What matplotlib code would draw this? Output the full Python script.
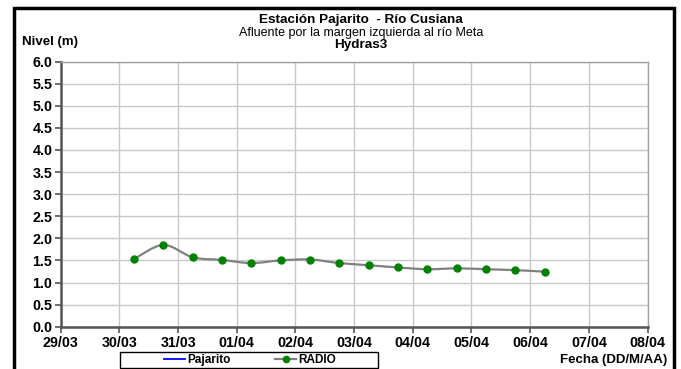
import matplotlib
matplotlib.use("Agg")
import matplotlib.pyplot as plt
import matplotlib.dates as mdates
from matplotlib.path import Path
from matplotlib.patches import PathPatch, Rectangle
from matplotlib.lines import Line2D
from datetime import datetime
import numpy as np

plt.rcParams['font.family'] = ['Liberation Sans', 'DejaVu Sans']

# ---- data ----
radio_times = ["2010-03-30 06:00", "2010-03-30 18:00", "2010-03-31 06:00", "2010-03-31 18:00",
               "2010-04-01 06:00", "2010-04-01 18:00", "2010-04-02 06:00", "2010-04-02 18:00",
               "2010-04-03 06:00", "2010-04-03 18:00", "2010-04-04 06:00", "2010-04-04 18:00",
               "2010-04-05 06:00", "2010-04-05 18:00", "2010-04-06 06:00"]
radio_values = [1.53, 1.85, 1.57, 1.51, 1.44, 1.50, 1.52, 1.44, 1.39, 1.34, 1.30, 1.32, 1.30, 1.28, 1.245]
pajarito_times = []
pajarito_values = []
x_tick_dates = ["2010-03-29", "2010-03-30", "2010-03-31", "2010-04-01", "2010-04-02", "2010-04-03",
                "2010-04-04", "2010-04-05", "2010-04-06", "2010-04-07", "2010-04-08"]
x_tick_labels = ["29/03", "30/03", "31/03", "01/04", "02/04", "03/04", "04/04", "05/04", "06/04", "07/04", "08/04"]
y_ticks = [0.0, 0.5, 1.0, 1.5, 2.0, 2.5, 3.0, 3.5, 4.0, 4.5, 5.0, 5.5, 6.0]

title1 = "Estación Pajarito  - Río Cusiana"
title2 = "Afluente por la margen izquierda al río Meta"
title3 = "Hydras3"
ylabel = "Nivel (m)"
xlabel = "Fecha (DD/M/AA)"

W, H = 681, 369
fig = plt.figure(figsize=(W / 100, H / 100), dpi=100)

def fx(px):
    return px / W

def fy(py):
    return 1 - py / H

ax = fig.add_axes([fx(60.7), fy(326.7), fx(647.5) - fx(60.7), fy(61.5) - fy(326.7)])

xt = mdates.date2num([datetime.strptime(d, "%Y-%m-%d") for d in x_tick_dates])
xr = mdates.date2num([datetime.strptime(d, "%Y-%m-%d %H:%M") for d in radio_times])
yr = np.array(radio_values)

ax.set_xlim(xt[0], xt[-1])
ax.set_ylim(0, 6)
ax.set_xticks(xt)
ax.set_xticklabels(x_tick_labels)
ax.set_yticks(y_ticks)
ax.set_yticklabels([f"{v:.1f}" for v in y_ticks])

ax.grid(True, color="#c8c8c8", linewidth=1.0)
ax.set_axisbelow(True)
for s in ("top", "right"):
    ax.spines[s].set_color("#a0a0a0")
    ax.spines[s].set_linewidth(1.0)
for s in ("left", "bottom"):
    ax.spines[s].set_color("#555555")
    ax.spines[s].set_linewidth(1.8)
ax.tick_params(axis="both", direction="out", length=4, width=1.2, color="#555555",
               labelsize=10.3, pad=2)
ax.tick_params(axis="x", pad=3)
for lab in ax.get_xticklabels() + ax.get_yticklabels():
    lab.set_fontweight("bold")

# smoothed line (Excel-style Bezier through data points)
verts = [(xr[0], yr[0])]
codes = [Path.MOVETO]
n = len(xr)
for i in range(n - 1):
    p0 = (xr[i - 1], yr[i - 1]) if i > 0 else (xr[i], yr[i])
    p1 = (xr[i], yr[i])
    p2 = (xr[i + 1], yr[i + 1])
    p3 = (xr[i + 2], yr[i + 2]) if i + 2 < n else p2
    c1 = (p1[0] + (p2[0] - p0[0]) / 6, p1[1] + (p2[1] - p0[1]) / 6)
    c2 = (p2[0] - (p3[0] - p1[0]) / 6, p2[1] - (p3[1] - p1[1]) / 6)
    verts += [c1, c2, p2]
    codes += [Path.CURVE4] * 3
ax.add_patch(PathPatch(Path(verts, codes), facecolor="none", edgecolor="#808080", linewidth=1.6, zorder=3))
ax.plot(xr, yr, linestyle="none", marker="o", markersize=5, color="#008000", zorder=4)
ax.plot(pajarito_times, pajarito_values, color="#0000ff")

# texts
fig.text(fx(361), fy(20.5), title1, ha="center", va="center", fontsize=9.7, fontweight="bold")
fig.text(fx(361), fy(33), title2, ha="center", va="center", fontsize=9)
fig.text(fx(361), fy(45), title3, ha="center", va="center", fontsize=9.7, fontweight="bold")
fig.text(fx(22), fy(42.5), ylabel, ha="left", va="center", fontsize=9.5, fontweight="bold")
fig.text(fx(667), fy(360), xlabel, ha="right", va="center", fontsize=9.5, fontweight="bold")

# legend (frame drawn separately, entries centered inside)
fig.patches.append(Rectangle((fx(120), fy(367.5)), fx(378) - fx(120), fy(352) - fy(367.5),
                             transform=fig.transFigure, fill=False, edgecolor="black",
                             linewidth=1.0, zorder=5))
handles = [Line2D([], [], color="#0000ff", linewidth=1.3),
           Line2D([], [], color="#808080", linewidth=1.6, marker="o", markersize=4.5,
                  markerfacecolor="#008000", markeredgecolor="#008000")]
leg = fig.legend(handles, ["Pajarito", "RADIO"], loc="center", ncol=2,
                 bbox_to_anchor=(fx(250), fy(359.8)),
                 prop={"weight": "bold", "size": 8.5}, frameon=False,
                 borderpad=0.0, handlelength=1.75, handletextpad=0.2,
                 borderaxespad=0, columnspacing=3.8)

# outer frame
fig.patches.append(Rectangle((fx(14), -0.05), fx(674) - fx(14), fy(8) + 0.05,
                             transform=fig.transFigure, fill=False, edgecolor="black",
                             linewidth=2.5, zorder=10))

fig.savefig("out.png", dpi=100)
